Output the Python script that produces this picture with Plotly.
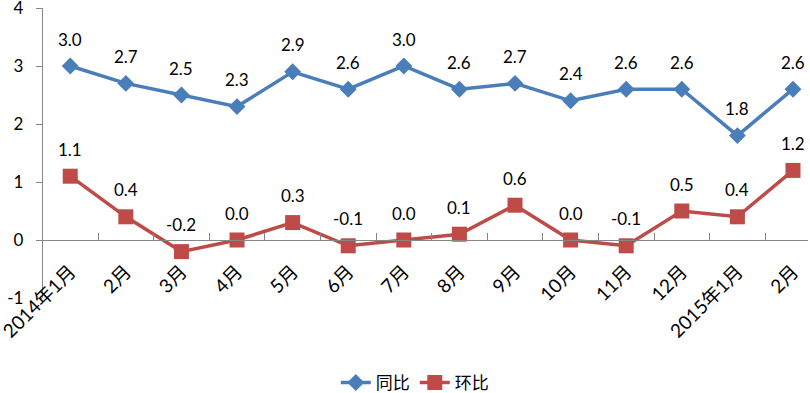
import plotly.graph_objects as go

categories = ["2014年1月", "2月", "3月", "4月", "5月", "6月", "7月", "8月", "9月", "10月", "11月", "12月", "2015年1月", "2月"]
tongbi = [3.0, 2.7, 2.5, 2.3, 2.9, 2.6, 3.0, 2.6, 2.7, 2.4, 2.6, 2.6, 1.8, 2.6]
huanbi = [1.1, 0.4, -0.2, 0.0, 0.3, -0.1, 0.0, 0.1, 0.6, 0.0, -0.1, 0.5, 0.4, 1.2]
y_ticks = [-1, 0, 1, 2, 3, 4]

BLUE = "#4A7EBB"
RED = "#BE4B48"
AXIS = "#868686"
FONT = "Lato, 'Noto Sans CJK SC', sans-serif"

idx = list(range(len(categories)))

fig = go.Figure()
fig.add_trace(go.Scatter(
    x=idx, y=tongbi, name="同比", mode="lines+markers",
    line=dict(color=BLUE, width=3.5),
    marker=dict(symbol="diamond", size=13, color=BLUE),
    cliponaxis=False,
))
fig.add_trace(go.Scatter(
    x=idx, y=huanbi, name="环比", mode="lines+markers",
    line=dict(color=RED, width=3.5),
    marker=dict(symbol="square", size=15, color=RED),
    cliponaxis=False, xaxis="x2",
))

annotations = []
for xs, ys in ((idx, tongbi), (idx, huanbi)):
    for xv, yv in zip(xs, ys):
        annotations.append(dict(
            x=xv, y=yv, xref="x", yref="y", text=f"{yv:.1f}",
            showarrow=False, yshift=27,
            font=dict(family=FONT, size=17, color="#000000"),
        ))

# x2 axis sits on the zero line: labels (rotated) placed just below it;
# x3 carries the tick marks at category boundaries.
xr = [-0.49, 13.27]
fig.update_layout(
    width=810, height=393,
    margin=dict(l=43, r=2, t=8, b=95, autoexpand=False),
    paper_bgcolor="white", plot_bgcolor="white",
    font=dict(family=FONT, color="#000000"),
    showlegend=True,
    legend=dict(orientation="h", x=0.486, xanchor="center", y=-0.293, yanchor="middle",
                font=dict(family=FONT, size=17), traceorder="normal"),
    annotations=annotations,
    xaxis=dict(
        range=xr, visible=False, automargin=False,
    ),
    xaxis2=dict(
        range=xr, overlaying="x", anchor="free", position=0.2,
        tickmode="array", tickvals=idx, ticktext=categories,
        tickangle=-45, tickfont=dict(family=FONT, size=19),
        ticklabelstandoff=12, ticklabeloverflow="allow",
        ticks="", showline=True, linecolor=AXIS, linewidth=1.3,
        showgrid=False, zeroline=False, automargin=False,
    ),
    xaxis3=dict(
        range=xr, overlaying="x", anchor="free", position=0.2,
        tickmode="array", tickvals=[i + 0.5 for i in idx[:-1]],
        showticklabels=False, ticks="inside", ticklen=7, tickcolor=AXIS,
        showline=False, showgrid=False, zeroline=False, automargin=False,
    ),
    yaxis=dict(
        range=[-1, 4], tickmode="array", tickvals=y_ticks, ticktext=[str(v) for v in y_ticks],
        ticks="outside", ticklen=6, tickcolor=AXIS,
        showline=True, linecolor=AXIS, linewidth=1.3,
        showgrid=False, zeroline=False, automargin=False,
        tickfont=dict(family=FONT, size=17), ticklabelstandoff=9,
        ticklabeloverflow="allow",
    ),
)
# invisible helper trace so the boundary tick axis (x3) is drawn
fig.add_trace(go.Scatter(x=idx, y=huanbi, xaxis="x3", mode="lines",
                         line=dict(width=0), hoverinfo="skip", showlegend=False))

fig.write_html("out.html", config={"displayModeBar": False},
               post_script="document.body.style.margin='0';")
